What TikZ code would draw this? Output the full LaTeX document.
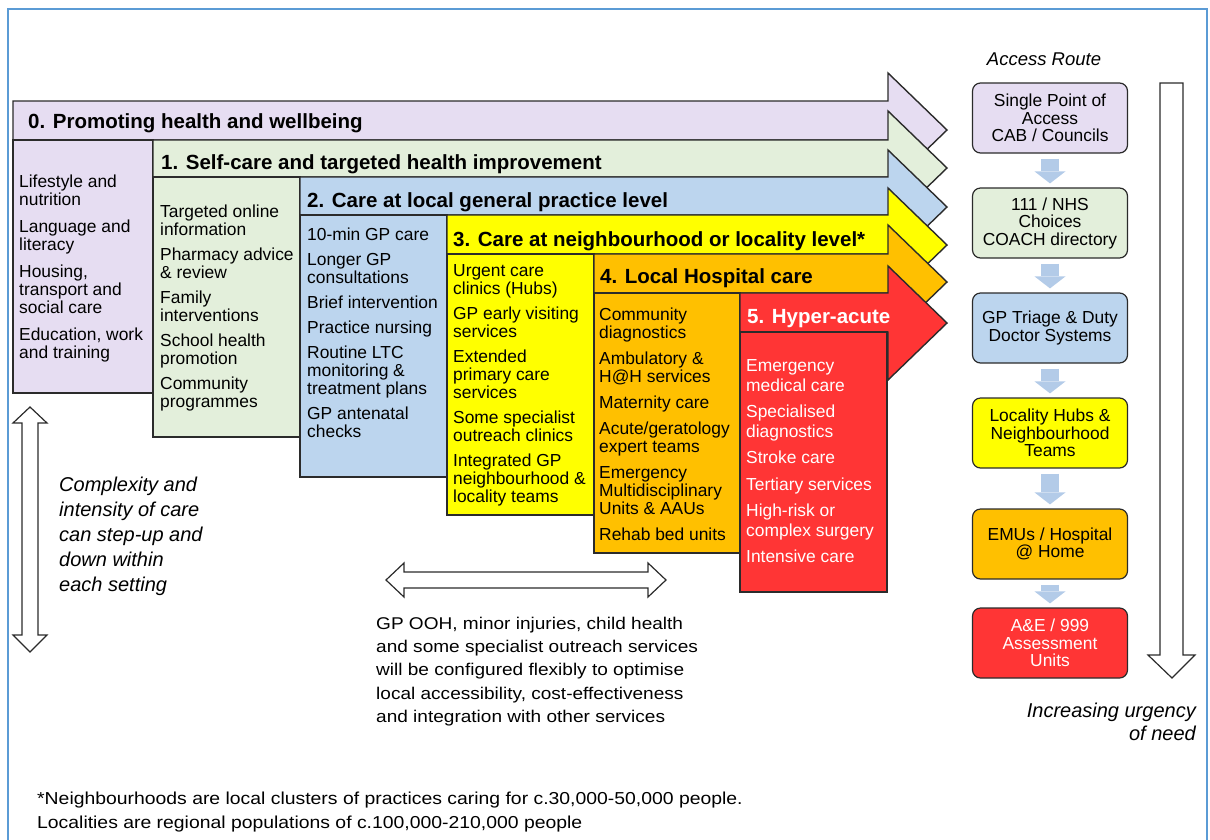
\documentclass[tikz,border=0pt]{standalone}
\usepackage{fontspec}
\setmainfont{Liberation Sans}
\newfontfamily\widefont[FakeStretch=1.12]{Liberation Sans}
\usetikzlibrary{arrows.meta, positioning}
\definecolor{lilac}{HTML}{E6DDF2}
\definecolor{sage}{HTML}{E3EFDB}
\definecolor{sky}{HTML}{BCD5EE}
\definecolor{lemon}{HTML}{FFFF00}
\definecolor{amber}{HTML}{FFC000}
\definecolor{scarlet}{HTML}{FF3535}
\definecolor{flowblue}{HTML}{B3CBE8}
\definecolor{frameblue}{HTML}{5B9BD5}
\definecolor{edge}{HTML}{2B2B2B}
\tikzset{
  outline/.style={draw=edge, line width=1.4pt},
  heading/.style={anchor=base west, inner sep=0pt, font=\fontsize{20.5}{22}\selectfont\bfseries},
  items/.style={anchor=north west, inner sep=0pt, align=left, font=\fontsize{17.4}{18}\selectfont},
  route/.style={draw=edge, line width=1.2pt, rounded corners=8pt, minimum width=155pt, minimum height=70pt, inner sep=2pt, align=center, font=\fontsize{17.4}{17.5}\selectfont},
  flow/.style={draw=flowblue, line width=18pt, -{Triangle[width=31pt, length=12pt, line width=0pt]}, shorten <=5pt, shorten >=4pt},
  remark/.style={inner sep=0pt, font=\fontsize{20}{25}\selectfont\itshape},
  blockarrow/.style={draw=edge, line width=1.2pt, fill=white},
}
% level arrow: colour, left, top, bottom, tip
\newcommand{\levelbar}[5]{\filldraw[outline, fill=#1] (#2,#3) -- (888,#3) -- (888,#5-57) -- (947,#5) -- (888,#5+57) -- (888,#4) -- (#2,#4) -- cycle;}
\newcommand{\levelbox}[5]{\filldraw[outline, fill=#1] (#2,#3) rectangle (#4,#5);}

\begin{document}
\begin{tikzpicture}[x=1pt, y=-1pt]
    \useasboundingbox (0,0) rectangle (1210,839);
    \draw[frameblue, line width=1.3pt] (8,850) -- (8,9) -- (1207,9) -- (1207,850);

    % stepped levels
    \levelbar{lilac}{13}{101}{140}{130}
    \levelbox{lilac}{13}{140}{153}{393}
    \levelbar{sage}{153}{140}{177}{168}
    \levelbox{sage}{153}{177}{300}{437}
    \levelbar{sky}{300}{177}{215}{207}
    \levelbox{sky}{300}{215}{447}{477}
    \levelbar{lemon}{447}{215}{254}{245}
    \levelbox{lemon}{447}{254}{594}{515}
    \levelbar{amber}{594}{254}{293}{282}
    \levelbox{amber}{594}{293}{740}{553}
    \levelbar{scarlet}{740}{293}{332}{323}
    \levelbox{scarlet}{740}{332}{887}{592}

    \node[heading] (lvl0) at (28,128) {0. Promoting health and wellbeing};
    \node[heading] (lvl1) at (161,169) {1. Self-care and targeted health improvement};
    \node[heading] (lvl2) at (307,207) {2. Care at local general practice level};
    \node[heading] (lvl3) at (453,246) {3. Care at neighbourhood or locality level*};
    \node[heading] (lvl4) at (600,283) {4. Local Hospital care};
    \node[heading, text=white] (lvl5) at (747,323) {5. Hyper-acute};

    \node[items] (set0) at (19,174.5) {Lifestyle and\\nutrition\\[9pt]Language and\\literacy\\[9pt]Housing,\\transport and\\social care\\[9pt]Education, work\\and training};
    \node[items] (set1) at (160,204.5) {Targeted online\\information\\[7pt]Pharmacy advice\\\& review\\[7pt]Family\\interventions\\[7pt]School health\\promotion\\[7pt]Community\\programmes};
    \node[items] (set2) at (307,227.5) {10-min GP care\\[7pt]Longer GP\\consultations\\[7pt]Brief intervention\\[7pt]Practice nursing\\[7pt]Routine LTC\\monitoring \&\\treatment plans\\[7pt]GP antenatal\\checks};
    \node[items] (set3) at (453,264.5) {Urgent care\\clinics (Hubs)\\[7pt]GP early visiting\\services\\[7pt]Extended\\primary care\\services\\[7pt]Some specialist\\outreach clinics\\[7pt]Integrated GP\\neighbourhood \&\\locality teams};
    \node[items] (set4) at (599,307.5) {Community\\diagnostics\\[8pt]Ambulatory \&\\H@H services\\[8pt]Maternity care\\[8pt]Acute/geratology\\expert teams\\[8pt]Emergency\\Multidisciplinary\\Units \& AAUs\\[8pt]Rehab bed units};
    \node[items, text=white, font=\fontsize{17.4}{19.5}\selectfont] (set5) at (746,359.5) {Emergency\\medical care\\[7pt]Specialised\\diagnostics\\[7pt]Stroke care\\[7pt]Tertiary services\\[7pt]High-risk or\\complex surgery\\[7pt]Intensive care};

    % access route
    \node[remark, anchor=base, font=\fontsize{18.5}{20}\selectfont\itshape] (access) at (1044,65) {Access Route};
    \node[route, fill=lilac] (r1) at (1050,118) {Single Point of\\Access\\CAB / Councils};
    \node[route, fill=sage] (r2) at (1050,223) {111 / NHS\\Choices\\COACH directory};
    \node[route, fill=sky] (r3) at (1050,328) {GP Triage \& Duty\\Doctor Systems};
    \node[route, fill=lemon] (r4) at (1050,433) {Locality Hubs \&\\Neighbourhood\\Teams};
    \node[route, fill=amber] (r5) at (1050,544) {EMUs / Hospital\\@ Home};
    \node[route, fill=scarlet, text=white] (r6) at (1050,643) {A\&E / 999\\Assessment\\Units};
    \draw[flow] (r1) -- (r2);
    \draw[flow] (r2) -- (r3);
    \draw[flow] (r3) -- (r4);
    \draw[flow] (r4) -- (r5);
    \draw[flow] (r5) -- (r6);

    \filldraw[blockarrow] (1160,83) -- (1183,83) -- (1183,655) -- (1195,655) -- (1172,678) -- (1148,655) -- (1160,655) -- cycle;
    \node[remark, anchor=north east, align=right, font=\fontsize{20}{23}\selectfont\itshape] (urgency) at (1196,702.7) {Increasing urgency\\of need};

    % step up and down
    \filldraw[blockarrow] (30,407) -- (47,423) -- (38,423) -- (38,635) -- (47,635) -- (30,652) -- (13,635) -- (22,635) -- (22,423) -- (13,423) -- cycle;
    \node[remark, anchor=north west, align=left] (stepping) at (59,476.7) {Complexity and\\intensity of care\\can step-up and\\down within\\each setting};

    \filldraw[blockarrow] (386,580) -- (404,563) -- (404,572) -- (648,572) -- (648,563) -- (666,580) -- (648,597) -- (648,588) -- (404,588) -- (404,597) -- cycle;
    \node[anchor=north west, align=left, inner sep=0pt, font=\widefont\fontsize{17}{23.3}\selectfont] (flexible) at (376,616.8) {GP OOH, minor injuries, child health\\and some specialist outreach services\\will be configured flexibly to optimise\\local accessibility, cost-effectiveness\\and integration with other services};

    \node[anchor=north west, align=left, inner sep=0pt, font=\widefont\fontsize{17.3}{24}\selectfont] (footnote) at (37,791.6) {*Neighbourhoods are local clusters of practices caring for c.30,000-50,000 people.\\Localities are regional populations of c.100,000-210,000 people};
\end{tikzpicture}
\end{document}
